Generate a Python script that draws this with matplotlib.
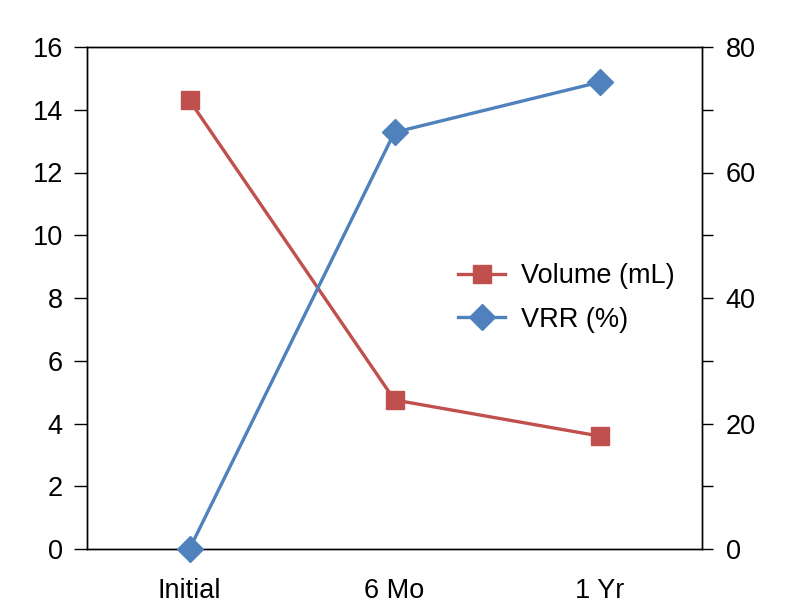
import matplotlib.pyplot as plt

categories = ["Initial", "6 Mo", "1 Yr"]
volume_ml = [14.3, 4.75, 3.6]
vrr_pct = [0, 66.4, 74.4]

RED = "#C0504D"
BLUE = "#4F81BD"

plt.rcParams["font.family"] = ["Liberation Sans", "DejaVu Sans"]
plt.rcParams["font.size"] = 19.5

fig = plt.figure(figsize=(7.92, 6.13), dpi=100)
ax = fig.add_axes([87 / 792, 1 - 549 / 613, 615 / 792, 502 / 613])
ax2 = ax.twinx()

x = list(range(len(categories)))
l1, = ax.plot(x, volume_ml, color=RED, linewidth=2.4, marker="s", markersize=13,
              label="Volume (mL)", clip_on=False, zorder=3)
l2, = ax2.plot(x, vrr_pct, color=BLUE, linewidth=2.4, marker="D", markersize=13,
               label="VRR (%)", clip_on=False, zorder=3)

ax.set_xlim(-0.5, 2.5)
ax.set_ylim(0, 16)
ax.set_yticks(range(0, 17, 2))
ax2.set_ylim(0, 80)
ax2.set_yticks(range(0, 81, 20))
ax2.set_yticks(range(10, 80, 20), minor=True)

ax.set_xticks(x)
ax.set_xticklabels(categories)
ax.tick_params(axis="x", length=0, pad=21, labelsize=19.5)
ax.tick_params(axis="y", direction="out", length=9.4, width=1, pad=8, labelsize=19.5)
ax2.tick_params(axis="y", which="both", direction="out", length=8, width=1, pad=9, labelsize=19.5)

for a in (ax, ax2):
    for s in a.spines.values():
        s.set_linewidth(1)

ax.legend([l1, l2], ["Volume (mL)", "VRR (%)"], loc="center left",
          bbox_to_anchor=(0.603, 0.50), frameon=False, fontsize=19.5,
          borderpad=0, borderaxespad=0, handlelength=1.75, handletextpad=0.6,
          labelspacing=0.65)

fig.savefig("out.png", dpi=100)
